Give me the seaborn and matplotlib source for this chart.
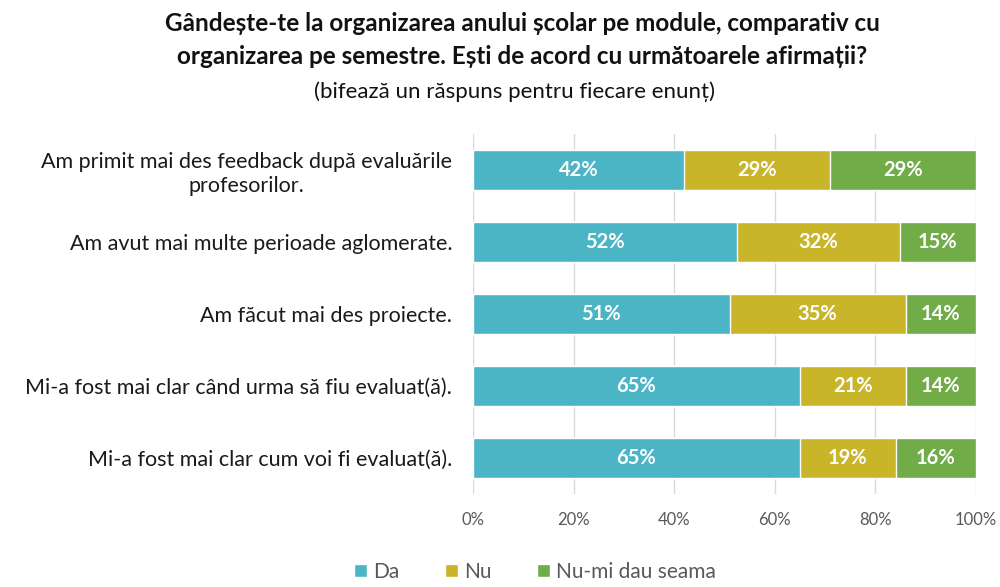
import numpy as np
import pandas as pd
import seaborn as sns
import matplotlib.pyplot as plt
from matplotlib.patches import Patch

# date
afirmatii = [
    "Am primit mai des feedback după evaluările\nprofesorilor.",
    "Am avut mai multe perioade aglomerate.",
    "Am făcut mai des proiecte.",
    "Mi-a fost mai clar când urma să fiu evaluat(ă).",
    "Mi-a fost mai clar cum voi fi evaluat(ă).",
]
da = [42, 52, 51, 65, 65]
nu = [29, 32, 35, 21, 19]
nu_stiu = [29, 15, 14, 14, 16]

serii = ["Da", "Nu", "Nu-mi dau seama"]
culori = ["#4BB5C5", "#C9B52A", "#71AC48"]

sns.set_theme(style="white")
plt.rcParams['font.family'] = ['Lato', 'DejaVu Sans']

df = pd.DataFrame({"Afirmatie": afirmatii, "Da": da, "Nu": nu, "Nu-mi dau seama": nu_stiu})
total = df[serii].sum(axis=1)
for s in serii:
    df[s + "_pct"] = df[s] / total * 100
df["cum_da"] = df["Da_pct"]
df["cum_nu"] = df["Da_pct"] + df["Nu_pct"]
df["cum_tot"] = df["cum_nu"] + df["Nu-mi dau seama_pct"]

fig = plt.figure(figsize=(10, 5.87), dpi=100)
ax = fig.add_axes([0.473, 0.158, 0.503, 0.614])

# bare suprapuse (stacked)
sns.barplot(data=df, y="Afirmatie", x="cum_tot", color=culori[2], width=0.55, ax=ax, orient="h", saturation=1)
sns.barplot(data=df, y="Afirmatie", x="cum_nu", color=culori[1], width=0.55, ax=ax, orient="h", saturation=1)
sns.barplot(data=df, y="Afirmatie", x="cum_da", color=culori[0], width=0.55, ax=ax, orient="h", saturation=1)

# etichete procente
for i, row in df.iterrows():
    starts = [0, row["cum_da"], row["cum_nu"]]
    widths = [row["Da_pct"], row["Nu_pct"], row["Nu-mi dau seama_pct"]]
    for s, st, w in zip(serii, starts, widths):
        ax.text(st + w / 2, i, f"{row[s]}%", ha="center", va="center",
                color="white", fontsize=14.5, fontweight="bold")

ax.set_xlim(0, 100)
ax.set_ylim(4.5, -0.5)
ax.set_xticks(np.arange(0, 101, 20))
ax.set_xticklabels([f"{v}%" for v in range(0, 101, 20)], color="#595959", fontsize=12)
ax.tick_params(axis="x", pad=13, length=0)
ax.tick_params(axis="y", pad=15, length=0, labelsize=15.5, labelcolor="#1a1a1a")
for lbl in ax.get_yticklabels():
    lbl.set_multialignment("center")
    lbl.set_linespacing(1.25)
ax.set_xlabel("")
ax.set_ylabel("")
ax.grid(axis="x", color="#D9D9D9", linewidth=1)
ax.set_axisbelow(True)
for sp in ax.spines.values():
    sp.set_visible(False)

fig.text(0.522, 0.932, "Gândește-te la organizarea anului școlar pe module, comparativ cu\n"
         "organizarea pe semestre. Ești de acord cu următoarele afirmații?",
         ha="center", va="center", fontsize=17.5, fontweight="bold", color="#111111",
         linespacing=1.5)
fig.text(0.515, 0.843, "(bifează un răspuns pentru fiecare enunț)",
         ha="center", va="center", fontsize=16, color="#111111")

handles = [Patch(facecolor=c, label=s) for c, s in zip(culori, serii)]
fig.legend(handles=handles, loc="center", bbox_to_anchor=(0.535, 0.026), ncol=3,
           frameon=False, fontsize=15, handlelength=0.6, handleheight=0.6,
           columnspacing=2.2, handletextpad=0.3, labelcolor="#595959")

fig.savefig("out.png", dpi=100)
